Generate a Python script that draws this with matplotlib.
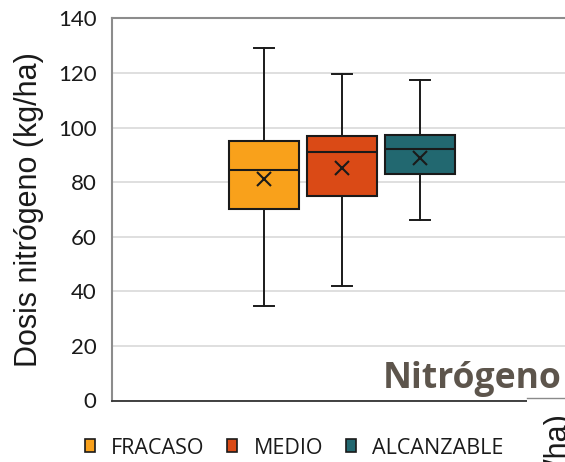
import matplotlib
matplotlib.use("Agg")
import matplotlib.pyplot as plt
from matplotlib.patches import Patch, Rectangle
from matplotlib.lines import Line2D

categories = ["FRACASO", "MEDIO", "ALCANZABLE"]
whisker_low = [34.5, 42, 66]
q1 = [70, 75, 82.8]
median = [84.5, 91, 92.2]
q3 = [95, 96.8, 97.1]
whisker_high = [129, 119.6, 117.4]
mean = [81, 85, 88.7]
colors = ["#F9A11B", "#DA4A16", "#226870"]
yticks = [0, 20, 40, 60, 80, 100, 120, 140]

W, H = 565, 462
fig = plt.figure(figsize=(W / 100, H / 100), dpi=100)

def fx(px):
    return px / W

def fy(py):
    return 1 - py / H

ax_left, ax_right, ax_top, ax_bottom = 112, 640, 18.3, 400.5
ax = fig.add_axes([fx(ax_left), fy(ax_bottom), fx(ax_right - ax_left), (ax_bottom - ax_top) / H])

stats = []
for i, c in enumerate(categories):
    stats.append(dict(label=c, whislo=whisker_low[i], q1=q1[i], med=median[i],
                      q3=q3[i], whishi=whisker_high[i], mean=mean[i], fliers=[]))

positions = [1, 2, 3]
bp = ax.bxp(stats, positions=positions, widths=0.885, patch_artist=True,
            showmeans=True, meanline=False,
            boxprops=dict(edgecolor="#1a1a1a", linewidth=1.5),
            medianprops=dict(color="#1a1a1a", linewidth=1.5),
            whiskerprops=dict(color="#1a1a1a", linewidth=1.4),
            capprops=dict(color="#1a1a1a", linewidth=1.4),
            capwidths=0.26,
            meanprops=dict(marker="x", markeredgecolor="#1a1a1a", markersize=10,
                           markeredgewidth=1.5))
for patch, col in zip(bp["boxes"], colors):
    patch.set_facecolor(col)

# x scale: 78 px per category, first box centre at x=264 px
px_per_unit = 78
x0 = 1 - (264 - ax_left) / px_per_unit
x1 = x0 + (ax_right - ax_left) / px_per_unit
ax.set_xlim(x0, x1)
ax.set_ylim(0, 140)
ax.set_yticks(yticks)
ax.set_yticklabels([str(t) for t in yticks], fontfamily="Lato", fontsize=16, color="#1a1a1a")
ax.tick_params(axis="y", length=0, pad=11)
ax.set_xticks([])
ax.yaxis.grid(True, color="#d9d9d9", linewidth=1.2)
ax.set_axisbelow(True)
for s in ["left", "top"]:
    ax.spines[s].set_color("#8c8c8c")
    ax.spines[s].set_linewidth(1.5)
ax.spines["right"].set_visible(False)
ax.spines["bottom"].set_color("#333333")
ax.spines["bottom"].set_linewidth(1.3)

ax.set_ylabel("Dosis nitrógeno (kg/ha)", fontfamily="Liberation Sans", fontsize=22,
              color="#1a1a1a", labelpad=10)

# overlay: white patch hiding axis line at right, title overlap and cut label
fig.patches.append(Rectangle((fx(527), fy(407)), fx(W - 527), 8 / H,
                             transform=fig.transFigure, facecolor="white",
                             edgecolor="none", zorder=10))
fig.lines.append(Line2D([fx(527), 1.0], [fy(398), fy(398)], transform=fig.transFigure,
                        color="#8a8a8a", linewidth=1.0, zorder=11))
fig.text(fx(383), fy(388), "Nitrógeno", fontfamily="Open Sans", fontweight="bold",
         fontsize=25.6, color="#5d554c", ha="left", va="baseline", zorder=11)
fig.text(fx(559), fy(414), "Dosis nitrógeno (kg/ha)", fontfamily="Liberation Sans",
         fontsize=22, color="#1a1a1a", rotation=90, ha="center", va="top", zorder=11)

handles = [Patch(facecolor=c, edgecolor="#1a1a1a", linewidth=1.2) for c in colors]
leg = fig.legend(handles, categories, loc="center left",
                 bbox_to_anchor=(fx(85), fy(448)), ncol=3, frameon=False,
                 prop=dict(family="Open Sans", size=15.5),
                 handlelength=0.47, handleheight=0.55, handletextpad=0.75,
                 columnspacing=1.05, borderpad=0, borderaxespad=0)
for t in leg.get_texts():
    t.set_color("#1a1a1a")

fig.savefig("out.png", dpi=100)
